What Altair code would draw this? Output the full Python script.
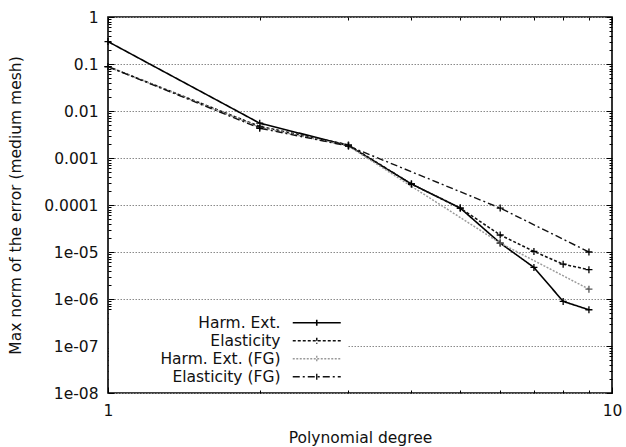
import altair as alt
import pandas as pd

# Polynomial degrees of the runs
degree = [1, 2, 3, 4, 5, 6, 7, 8, 9]
degree_fg = [1, 2, 3, 6, 9]

# Max norm of the error on the medium mesh
harm_ext = [0.30, 0.0055, 0.00184, 2.8e-4, 8.6e-5, 1.55e-5, 4.7e-6, 8.9e-7, 5.9e-7]
elasticity = [0.088, 0.0047, 0.0019, 2.8e-4, 8.6e-5, 2.3e-5, 1.03e-5, 5.5e-6, 4.2e-6]
harm_ext_fg = [0.088, 0.0045, 0.0018, 1.55e-5, 1.62e-6]
elasticity_fg = [0.088, 0.0043, 0.0018, 8.6e-5, 1.0e-5]

series_names = ["Harm. Ext.", "Elasticity", "Harm. Ext. (FG)", "Elasticity (FG)"]
line_colors = ["#000000", "#111111", "#9a9a9a", "#111111"]
marker_colors = ["#000000", "#000000", "#555555", "#000000"]
line_dashes = [[1, 0], [3, 2], [2, 1.5], [7, 3, 2, 3]]
line_widths = [1.6, 1.4, 1.0, 1.2]

y_tick_values = [1e-8, 1e-7, 1e-6, 1e-5, 1e-4, 1e-3, 1e-2, 1e-1, 1]
y_tick_labels = ["1e-08", "1e-07", "1e-06", "1e-05", "0.0001", "0.001", "0.01", "0.1", "1"]
y_minor_values = [m * 10.0 ** e for e in range(-8, 0) for m in range(2, 10)]
x_tick_values = [1, 10]
x_minor_values = [2, 3, 4, 5, 6, 7, 8, 9]

FONT = "DejaVu Sans"
FS = 15.5
MAJOR = 6
MINOR = 3

rows = []
for name, xs, ys in [
    (series_names[0], degree, harm_ext),
    (series_names[1], degree, elasticity),
    (series_names[2], degree_fg, harm_ext_fg),
    (series_names[3], degree_fg, elasticity_fg),
]:
    for xv, yv in zip(xs, ys):
        rows.append({"series": name, "degree": xv, "error": yv})
df = pd.DataFrame(rows)

x_scale = alt.Scale(type="log", domain=[1, 10], nice=False)
y_scale = alt.Scale(type="log", domain=[1e-8, 1], nice=False)

label_array = "[" + ",".join("'%s'" % s for s in y_tick_labels) + "]"
y_label_expr = label_array + "[round(log(datum.value) / LN10) + 8]"


def inner_axis(orient, values, size, **extra):
    # ticks drawn on the inside of the frame: the axis is shifted inward by its tick length
    base = dict(
        orient=orient, values=values, tickSize=size, offset=-size, domain=False,
        tickColor="#000000", tickWidth=1, title=None, labels=False, grid=False,
    )
    base.update(extra)
    return alt.Axis(**base)


# key: labels right-aligned in a column, line samples (with a "+") to their right
legend = alt.Legend(
    title=None, orient="none", legendX=1, legendY=295, direction="vertical",
    symbolType="M-4,0L4,0M0,-0.5L0,0.5", symbolSize=144,
    symbolOffset=197, labelOffset={"expr": "-44"}, labelAlign="right",
    labelFont=FONT, labelFontSize=FS, labelColor="#111111",
    rowPadding=1, padding=3, fillColor="#ffffff",
    symbolFillColor="transparent",
)

series_domain = series_names

lines = alt.Chart(df).mark_line().encode(
    x=alt.X("degree:Q", scale=x_scale, axis=inner_axis(
        "bottom", x_tick_values, MAJOR, labels=True, labelFont=FONT, labelFontSize=FS,
        labelColor="#111111", labelPadding=10, format="~g", labelFlush=False,
        title="Polynomial degree", titleFont=FONT, titleFontSize=FS, titleFontWeight="normal",
        titleColor="#111111", titleY=44 + MAJOR, titleBaseline="middle")),
    y=alt.Y("error:Q", scale=y_scale, axis=inner_axis(
        "left", y_tick_values, MAJOR, labels=True, labelFont=FONT, labelFontSize=FS,
        labelColor="#111111", labelPadding=10, labelExpr=y_label_expr, labelFlush=False,
        grid=True, gridColor="#8a8a8a", gridDash=[1.5, 1.5], gridWidth=1,
        title="Max norm of the error (medium mesh)", titleFont=FONT, titleFontSize=FS,
        titleFontWeight="normal", titleColor="#111111", titleAngle=270,
        titleBaseline="middle", titleAlign="center", titleX=-93 - MAJOR, titleY=188)),
    color=alt.Color("series:N", scale=alt.Scale(domain=series_domain, range=line_colors), legend=legend),
    strokeDash=alt.StrokeDash("series:N", scale=alt.Scale(domain=series_domain, range=line_dashes), legend=legend),
    strokeWidth=alt.StrokeWidth("series:N", scale=alt.Scale(domain=series_domain, range=line_widths), legend=legend),
    order="degree:Q",
)

points = alt.Chart(df).mark_point(
    shape="M-1,0L1,0M0,-1L0,1", filled=False, size=49, strokeWidth=1.3, opacity=1
).encode(
    x=alt.X("degree:Q", scale=x_scale, axis=inner_axis("top", x_tick_values, MAJOR)),
    y=alt.Y("error:Q", scale=y_scale, axis=inner_axis("right", y_tick_values, MAJOR)),
    stroke=alt.Stroke("series:N", scale=alt.Scale(domain=series_domain, range=marker_colors), legend=None),
)

minor_a = alt.Chart(df).mark_point(opacity=0).encode(
    x=alt.X("degree:Q", scale=x_scale, axis=inner_axis("bottom", x_minor_values, MINOR)),
    y=alt.Y("error:Q", scale=y_scale, axis=inner_axis("left", y_minor_values, MINOR)),
)

minor_b = alt.Chart(df).mark_point(opacity=0).encode(
    x=alt.X("degree:Q", scale=x_scale, axis=inner_axis("top", x_minor_values, MINOR)),
    y=alt.Y("error:Q", scale=y_scale, axis=inner_axis("right", y_minor_values, MINOR)),
)

chart = alt.layer(lines, points, minor_a, minor_b).resolve_axis(
    x="independent", y="independent"
).properties(
    width=504, height=376,
    autosize=alt.AutoSizeParams(type="none"),
    padding={"left": 108, "top": 17, "right": 14, "bottom": 54},
    background="#ffffff",
).configure_view(
    stroke="#000000", strokeWidth=1.6
)

chart.save("out.html", embed_options={"renderer": "svg", "actions": False})
